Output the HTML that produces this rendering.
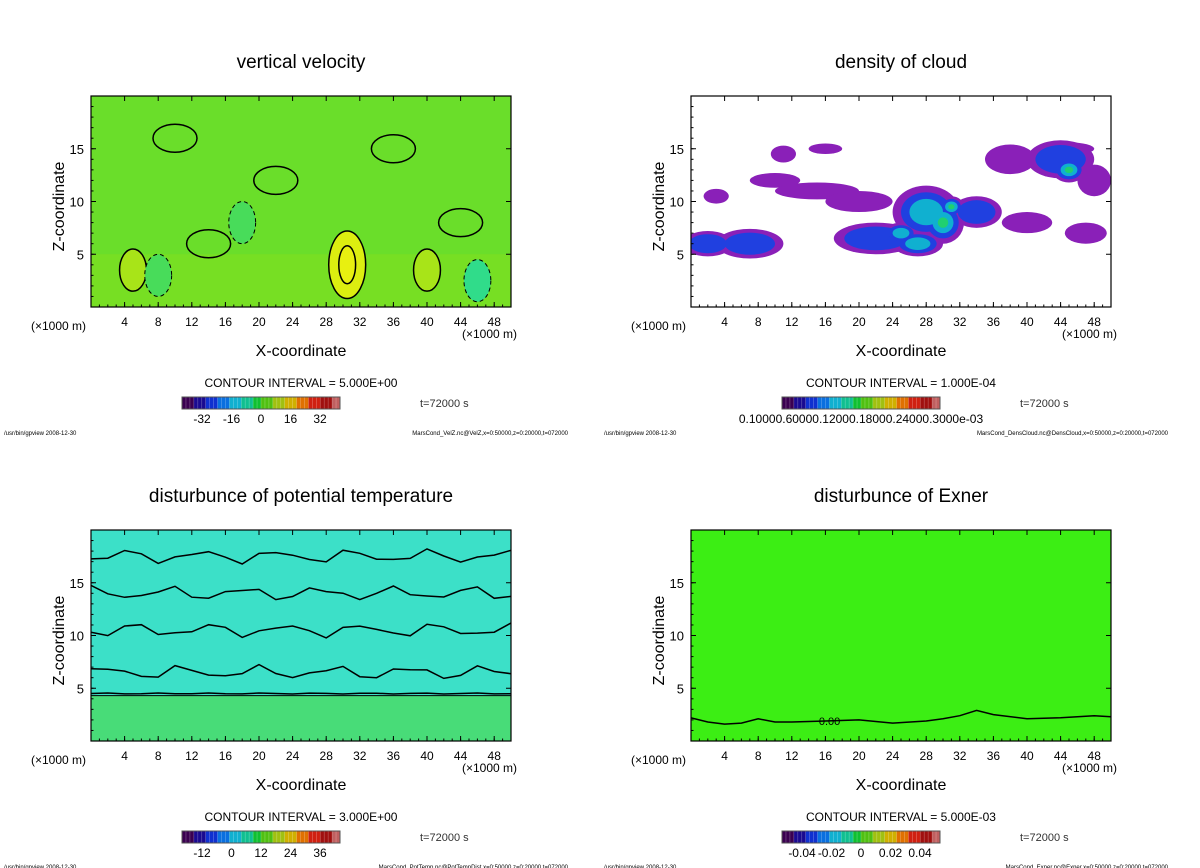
<!DOCTYPE html>
<html><head><meta charset="utf-8"><style>
body{margin:0;background:#fff;}
svg{display:block;font-family:"Liberation Sans",sans-serif;}
</style></head><body>
<svg id="c" width="1200" height="868" viewBox="0 0 1200 868"></svg>
<script>
const xTicks=[4,8,12,16,20,24,28,32,36,40,44,48];
const zTicks=[5,10,15];
const titles=["vertical velocity","density of cloud","disturbunce of potential temperature","disturbunce of Exner"];
const intervals=["CONTOUR INTERVAL = 5.000E+00","CONTOUR INTERVAL = 1.000E-04","CONTOUR INTERVAL = 3.000E+00","CONTOUR INTERVAL = 5.000E-03"];
const cbLabels=[["-32","-16","0","16","32"],["0.10000.60000.12000.18000.24000.3000e-03"],["-12","0","12","24","36"],["-0.04","-0.02","0","0.02","0.04"]];
const files=["MarsCond_VelZ.nc@VelZ,x=0:50000,z=0:20000,t=072000","MarsCond_DensCloud.nc@DensCloud,x=0:50000,z=0:20000,t=072000","MarsCond_PotTemp.nc@PotTempDist,x=0:50000,z=0:20000,t=072000","MarsCond_Exner.nc@Exner,x=0:50000,z=0:20000,t=072000"];
// updraft blobs for vertical velocity: x(km), z(km), value
const wBlobsX=[5,30.5,40,18,46,8];
const wBlobsZ=[3.5,4,3.5,8,2.5,3];
const wBlobsV=[12,22,8,-4,-6,-4];
// cloud blobs: x, z, rx, rz, level(0-3)
const cloudX=[2,7,11,16,10,22,28,30,27,34,38,44,45,40,47,31,25,15,20,48,3,45];
const cloudZ=[6,6,14.5,15,12,6.5,9,8,6,9,14,14,13,8,7,9.5,7,11,10,12,10.5,15];
const cloudRx=[3,4,1.5,2,3,5,4,2.5,3,3,3,4,2,3,2.5,1.5,2,5,4,2,1.5,3];
const cloudRz=[1.2,1.4,0.8,0.5,0.7,1.5,2.5,2,1.2,1.5,1.4,1.8,1.2,1,1,1,1,0.8,1,1.5,0.7,0.6];
const cloudL=[1,1,0,0,0,1,2,3,2,1,0,1,3,0,0,3,2,0,0,0,0,0];
// Exner zero-contour height along x
const exX=[0,2,4,6,8,10,12,16,20,24,28,30,32,34,36,40,44,48,50];
const exZ=[2.2,1.8,1.6,1.7,2.1,1.8,1.8,1.9,2.0,1.7,1.9,2.1,2.4,2.9,2.5,2.1,2.2,2.4,2.3];
// potential temperature zero-contour levels
const ptZ=[4.5,6.5,10.5,14,17.5];

const NS="http://www.w3.org/2000/svg";
const svg=document.getElementById('c');
function el(t,a,p){const e=document.createElementNS(NS,t);for(const k in a)e.setAttribute(k,a[k]);(p||svg).appendChild(e);return e;}
function txt(s,x,y,size,anchor,p,extra){const e=el('text',Object.assign({x:x,y:y,'font-size':size,'text-anchor':anchor||'middle',fill:'#000'},extra||{}),p);e.textContent=s;return e;}
const panels=[[91,96],[691,96],[91,530],[691,530]];
const W=420,H=211;
const cbColors=["#3a0050","#1a0a90","#1030d0","#0a70e0","#10b0d0","#10c090","#10c030","#50c010","#a0c010","#d0b000","#e07000","#d02010","#a01010","#c06060"];
panels.forEach((pp,i)=>{
  const [px,py]=pp;
  const g=el('g',{},svg);
  
  
  const sx=v=>px+v/50*W, sz=v=>py+H-v/20*H;
  const clip=el('clipPath',{id:'cl'+i},g);el('rect',{x:px,y:py,width:W,height:H},clip);
  const pg=el('g',{'clip-path':'url(#cl'+i+')'},g);
  
  
  if(i===0){
    el('rect',{x:px,y:py,width:W,height:H,fill:'#6ade2a'},pg);
    el('rect',{x:px,y:sz(5),width:W,height:H,fill:'#80e020','opacity':0.6},pg);
    wBlobsX.forEach((x,k)=>{
      const v=wBlobsV[k];
      const col=v>15?'#dcee10':v>5?'#a8e418':v<-5?'#30dc8a':'#48dc5a';
      const e=el('ellipse',{cx:sx(x),cy:sz(wBlobsZ[k]),rx:(v>15?2.2:1.6)/50*W,ry:(v>15?3.2:2)/20*H,fill:col,stroke:'#000','stroke-width':v<0?1:1.5,'stroke-dasharray':v<0?'4 3':'none'},pg);
      
      if(v>15)el('ellipse',{cx:sx(x),cy:sz(wBlobsZ[k]),rx:1/50*W,ry:1.8/20*H,fill:'#e8f010',stroke:'#000','stroke-width':1.5},pg);
    });
    [[10,16],[22,12],[36,15],[14,6],[44,8]].forEach(([x,z])=>el('ellipse',{cx:sx(x),cy:sz(z),rx:22,ry:14,fill:'none',stroke:'#000','stroke-width':1.5},pg));
  } else if(i===1){
    el('rect',{x:px,y:py,width:W,height:H,fill:'#fff'},pg);
    const lc=['#8a20b8','#2040e0','#10b0d0','#20d070'];
    for(let lv=0;lv<4;lv++){
      cloudX.forEach((x,k)=>{
        if(cloudL[k]<lv)return;
        const s=1-lv*0.25;
        const e=el('ellipse',{cx:sx(x),cy:sz(cloudZ[k]),rx:cloudRx[k]*s/50*W,ry:cloudRz[k]*s/20*H,fill:lc[lv]},pg);
        
      });
    }
  } else if(i===2){
    el('rect',{x:px,y:py,width:W,height:H,fill:'#3ce0c8'},pg);
    el('rect',{x:px,y:sz(4.3),width:W,height:H,fill:'#48dc78'},pg);
    ptZ.forEach(z=>{
      let d='';for(let x=0;x<=50;x+=2){const zz=z+(z>5?0.5*Math.sin(x*0.7+z)+0.25*Math.cos(x*1.9):0.05*Math.sin(x));d+=(x?'L':'M')+sx(x).toFixed(1)+','+sz(zz).toFixed(1);}
      const p=el('path',{d:d,fill:'none',stroke:'#000','stroke-width':1.5},pg);
      
    });
    el('line',{x1:px,x2:px+W,y1:sz(4.3),y2:sz(4.3),stroke:'#000','stroke-width':1},pg);
  } else {
    el('rect',{x:px,y:py,width:W,height:H,fill:'#3cee14'},pg);
    const d=exX.map((x,k)=>(k?'L':'M')+sx(x).toFixed(1)+','+sz(exZ[k]).toFixed(1)).join('');
    const p=el('path',{d:d,fill:'none',stroke:'#000','stroke-width':1.5},pg);
    
    txt('0.00',sx(16.5),sz(1.9)+4,11,'middle',pg);
  }
  const fr=el('rect',{x:px,y:py,width:W,height:H,fill:'none',stroke:'#000','stroke-width':1.2},g);
  
  xTicks.forEach(t=>{el('line',{x1:sx(t),x2:sx(t),y1:py+H,y2:py+H-5,stroke:'#000'},g);el('line',{x1:sx(t),x2:sx(t),y1:py,y2:py+5,stroke:'#000'},g);
    const l=txt(String(t),sx(t),py+H+19,12,'middle',g);});
  for(let t=1;t<50;t++)el('line',{x1:sx(t),x2:sx(t),y1:py+H,y2:py+H-2.5,stroke:'#000'},g);
  zTicks.forEach(t=>{el('line',{x1:px,x2:px+5,y1:sz(t),y2:sz(t),stroke:'#000'},g);el('line',{x1:px+W,x2:px+W-5,y1:sz(t),y2:sz(t),stroke:'#000'},g);
    const l=txt(String(t),px-7,sz(t)+5,13,'end',g);});
  for(let t=1;t<20;t++)el('line',{x1:px,x2:px+2.5,y1:sz(t),y2:sz(t),stroke:'#000'},g);
  txt('(×1000 m)',px-60,py+H+23,12,'start',g);
  txt('(×1000 m)',px+W+6,py+H+31,12,'end',g);
  const xt=txt('X-coordinate',px+210,py+H+49,16,'middle',g);
  const zt=txt('Z-coordinate',0,0,16,'middle',g,{transform:`translate(${px-27},${py+H/2+5}) rotate(-90)`});
  const tt=txt(titles[i],px+210,py-28,19,'middle',g);
  txt(intervals[i],px+210,py+H+80,12,'middle',g);
  const cbx=px+91,cby=py+H+90,cbw=158;
  const cb=el('g',{},g);
  for(let k=0;k<40;k++){el('rect',{x:cbx+k*cbw/40,y:cby,width:cbw/40+0.5,height:12,fill:cbColors[Math.floor(k*cbColors.length/40)]},cb);
    el('line',{x1:cbx+k*cbw/40,x2:cbx+k*cbw/40,y1:cby,y2:cby+12,stroke:'#ffffff','stroke-opacity':0.35,'stroke-width':0.6},cb);}
  el('rect',{x:cbx,y:cby,width:cbw,height:12,fill:'none',stroke:'#555'},cb);
  const labs=cbLabels[i];
  if(labs.length===1){txt(labs[0],cbx+cbw/2,cby+26,12,'middle',cb);}
  else labs.forEach((s,k)=>txt(s,cbx+20+k*(cbw-40)/(labs.length-1),cby+26,12,'middle',cb));
  txt('t=72000 s',px+329,cby+10,11,'start',g,{fill:'#333'});
  txt('/usr/bin/gpview  2008-12-30',px-87,py+H+128,6,'start',g);
  txt(files[i],px+477,py+H+128,6,'end',g);
});
</script>
</body></html>
